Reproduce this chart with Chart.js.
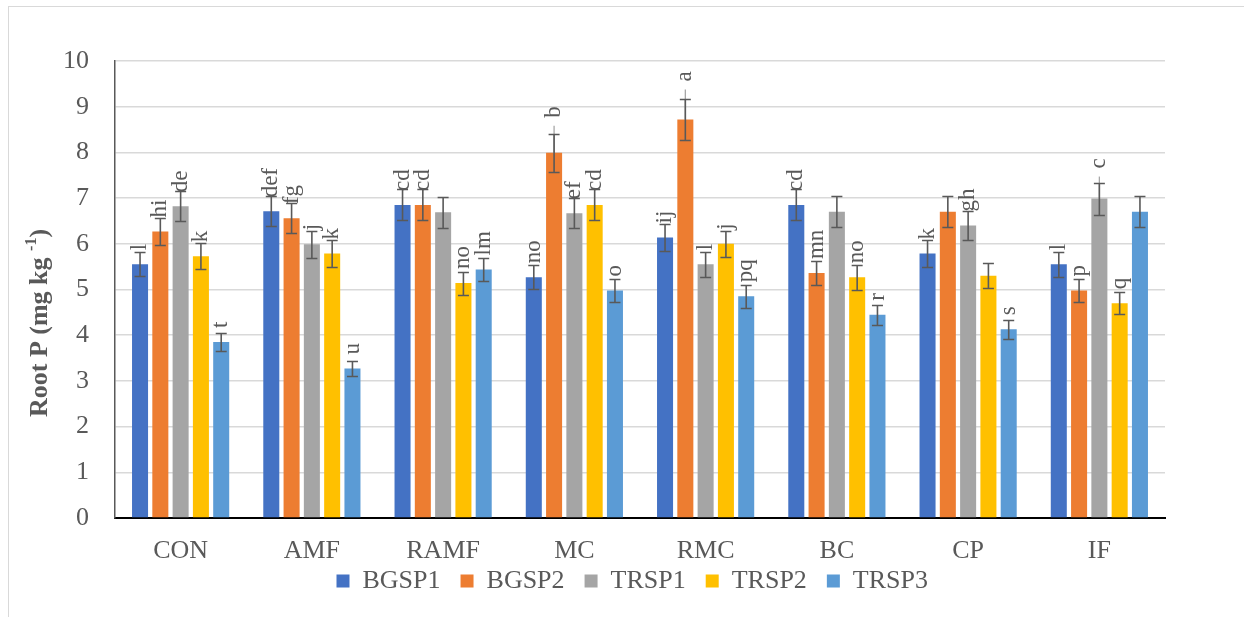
<!DOCTYPE html>
<html>
<head>
<meta charset="utf-8">
<script src="https://cdn.jsdelivr.net/npm/chart.js@4.4.1/dist/chart.umd.min.js"></script>
<style>
  html, body { margin: 0; padding: 0; background: #ffffff; overflow: hidden; }
  #wrap { width: 1244px; height: 617px; }
  canvas { display: block; }
</style>
</head>
<body>
<div id="wrap"><canvas id="chart" width="1244" height="617"></canvas></div>
<script>
// Treatments on the x axis
const categories = ['CON', 'AMF', 'RAMF', 'MC', 'RMC', 'BC', 'CP', 'IF'];
const seriesNames = ['BGSP1', 'BGSP2', 'TRSP1', 'TRSP2', 'TRSP3'];
const yTicks = [0, 1, 2, 3, 4, 5, 6, 7, 8, 9, 10];

// Root P means (mg kg-1)
const bgsp1 = [5.55, 6.71, 6.85, 5.27, 6.14, 6.85, 5.79, 5.55];
const bgsp2 = [6.27, 6.56, 6.85, 7.99, 8.72, 5.36, 6.70, 4.98];
const trsp1 = [6.82, 5.99, 6.69, 6.67, 5.55, 6.70, 6.40, 6.99];
const trsp2 = [5.73, 5.79, 5.14, 6.85, 6.00, 5.27, 5.30, 4.70];
const trsp3 = [3.85, 3.27, 5.44, 4.98, 4.85, 4.45, 4.13, 6.70];

// Standard errors
const bgsp1Err = [0.26, 0.33, 0.34, 0.26, 0.30, 0.34, 0.29, 0.28];
const bgsp2Err = [0.30, 0.33, 0.34, 0.41, 0.44, 0.27, 0.34, 0.26];
const trsp1Err = [0.33, 0.30, 0.34, 0.33, 0.28, 0.34, 0.32, 0.35];
const trsp2Err = [0.28, 0.29, 0.25, 0.34, 0.29, 0.27, 0.27, 0.24];
const trsp3Err = [0.20, 0.17, 0.26, 0.25, 0.25, 0.22, 0.21, 0.34];

// Significance letters
const bgsp1Letters = ['l', 'def', 'cd', 'no', 'ij', 'cd', 'k', 'l'];
const bgsp2Letters = ['hi', 'fg', 'cd', 'b', 'a', 'mn', '', 'p'];
const trsp1Letters = ['de', 'j', '', 'ef', 'l', '', 'gh', 'c'];
const trsp2Letters = ['k', 'k', 'no', 'cd', 'j', 'no', '', 'q'];
const trsp3Letters = ['t', 'u', 'lm', 'o', 'pq', 'r', 's', ''];

const seriesValues = [bgsp1, bgsp2, trsp1, trsp2, trsp3];
const seriesErrors = [bgsp1Err, bgsp2Err, trsp1Err, trsp2Err, trsp3Err];
const seriesLetters = [bgsp1Letters, bgsp2Letters, trsp1Letters, trsp2Letters, trsp3Letters];
const seriesColors = ['#4472C4', '#ED7D31', '#A5A5A5', '#FFC000', '#5B9BD5'];

// Letters that sit higher, joined to their bar by a leader line (px lift)
const liftedLetters = { '1-3': 21, '1-4': 24, '2-7': 16 };

const FONT = "'Liberation Serif', 'Times New Roman', serif";
const TEXT = '#595959';
const FRAME = { left: 8.5, top: 6.5, right: 1256, bottom: 640 };

const framePlugin = {
  id: 'frame',
  beforeDraw(chart) {
    const ctx = chart.ctx;
    ctx.save();
    ctx.fillStyle = '#ffffff';
    ctx.fillRect(0, 0, chart.width, chart.height);
    ctx.strokeStyle = '#d9d9d9';
    ctx.lineWidth = 1;
    ctx.strokeRect(FRAME.left, FRAME.top, FRAME.right - FRAME.left, FRAME.bottom - FRAME.top);
    ctx.restore();
  }
};

// centre the legend row inside the outer frame and tuck it under the axis labels
const legendPlace = {
  id: 'legendPlace',
  afterLayout(chart) {
    const lg = chart.legend;
    const h = lg.bottom - lg.top;
    lg.left = FRAME.left;
    lg.right = FRAME.right;
    lg.top = 548;
    lg.bottom = 548 + h;
  }
};

const errorBars = {
  id: 'errorBars',
  afterDatasetsDraw(chart) {
    const ctx = chart.ctx;
    const y = chart.scales.y;
    ctx.save();
    // leader lines first
    chart.data.datasets.forEach((ds, i) => {
      const meta = chart.getDatasetMeta(i);
      meta.data.forEach((el, j) => {
        const lift = liftedLetters[i + '-' + j];
        if (!lift) return;
        const top = y.getPixelForValue(seriesValues[i][j]);
        const start = top - 14 - lift;
        ctx.strokeStyle = '#a6a6a6';
        ctx.lineWidth = 1.3;
        ctx.beginPath();
        ctx.moveTo(el.x, top);
        ctx.lineTo(el.x, start + 8);
        ctx.stroke();
      });
    });
    ctx.strokeStyle = '#595959';
    ctx.lineWidth = 1.6;
    chart.data.datasets.forEach((ds, i) => {
      const meta = chart.getDatasetMeta(i);
      meta.data.forEach((el, j) => {
        const v = seriesValues[i][j], e = seriesErrors[i][j];
        const yt = Math.round(y.getPixelForValue(v + e)) + 0.5;
        const yb = Math.round(y.getPixelForValue(v - e)) + 0.5;
        const x = el.x;
        ctx.beginPath();
        ctx.moveTo(x, yt); ctx.lineTo(x, yb);
        ctx.moveTo(x - 5.5, yt); ctx.lineTo(x + 5.5, yt);
        ctx.moveTo(x - 5.5, yb); ctx.lineTo(x + 5.5, yb);
        ctx.stroke();
      });
    });
    ctx.restore();
  }
};

const letterLabels = {
  id: 'letterLabels',
  afterDatasetsDraw(chart) {
    const ctx = chart.ctx;
    const y = chart.scales.y;
    ctx.save();
    ctx.fillStyle = TEXT;
    ctx.font = '23px ' + FONT;
    ctx.textAlign = 'left';
    ctx.textBaseline = 'middle';
    chart.data.datasets.forEach((ds, i) => {
      const meta = chart.getDatasetMeta(i);
      meta.data.forEach((el, j) => {
        const txt = seriesLetters[i][j];
        if (!txt) return;
        const lift = liftedLetters[i + '-' + j] || 0;
        const start = y.getPixelForValue(seriesValues[i][j]) - 14 - lift;
        ctx.save();
        ctx.translate(el.x, start);
        ctx.rotate(-Math.PI / 2);
        ctx.fillText(txt, 0, 0);
        ctx.restore();
      });
    });
    ctx.restore();
  }
};

// y axis title with a superscript exponent
const yTitle = {
  id: 'yTitle',
  afterDraw(chart) {
    const ctx = chart.ctx;
    const main = 'bold 26px ' + FONT;
    const sup = 'bold 16px ' + FONT;
    const a = 'Root P (mg kg ', b = '-1', c = ')';
    ctx.save();
    ctx.font = main; const wa = ctx.measureText(a).width; const wc = ctx.measureText(c).width;
    ctx.font = sup; const wb = ctx.measureText(b).width;
    const total = wa + wb + wc;
    ctx.translate(40, 323);
    ctx.rotate(-Math.PI / 2);
    ctx.fillStyle = TEXT;
    ctx.textBaseline = 'middle';
    ctx.textAlign = 'left';
    let x = -total / 2;
    ctx.font = main; ctx.fillText(a, x, 0); x += wa;
    ctx.font = sup; ctx.fillText(b, x, -8); x += wb;
    ctx.font = main; ctx.fillText(c, x, 0);
    ctx.restore();
  }
};

const datasets = seriesNames.map((name, i) => ({
  label: name,
  data: seriesValues[i],
  backgroundColor: seriesColors[i],
  borderWidth: 0,
  categoryPercentage: 0.773,
  barPercentage: 0.79
}));

new Chart(document.getElementById('chart'), {
  type: 'bar',
  data: { labels: categories, datasets },
  options: {
    responsive: false,
    animation: false,
    devicePixelRatio: 1,
    layout: { padding: { top: 61, right: 79, left: 0, bottom: -6 } },
    scales: {
      x: {
        grid: { display: false, drawTicks: false },
        border: { color: '#000000', width: 2 },
        ticks: { font: { family: FONT, size: 26 }, color: TEXT, padding: 18, maxRotation: 0 },
        afterFit(s) { s.height = 49; }
      },
      y: {
        min: yTicks[0],
        max: yTicks[yTicks.length - 1],
        afterBuildTicks(s) { s.ticks = yTicks.map(v => ({ value: v })); },
        grid: { color: '#d9d9d9', lineWidth: 1.5, drawTicks: false },
        border: { color: '#595959', width: 1.5 },
        ticks: { font: { family: FONT, size: 26 }, color: TEXT, padding: 26 },
        afterFit(s) { s.width = 115; }
      }
    },
    plugins: {
      legend: {
        position: 'bottom',
        labels: {
          boxWidth: 13, boxHeight: 13, padding: 20,
          font: { family: FONT, size: 26 }, color: TEXT
        }
      },
      tooltip: { enabled: false }
    }
  },
  plugins: [framePlugin, legendPlace, errorBars, letterLabels, yTitle]
});
</script>
</body>
</html>
